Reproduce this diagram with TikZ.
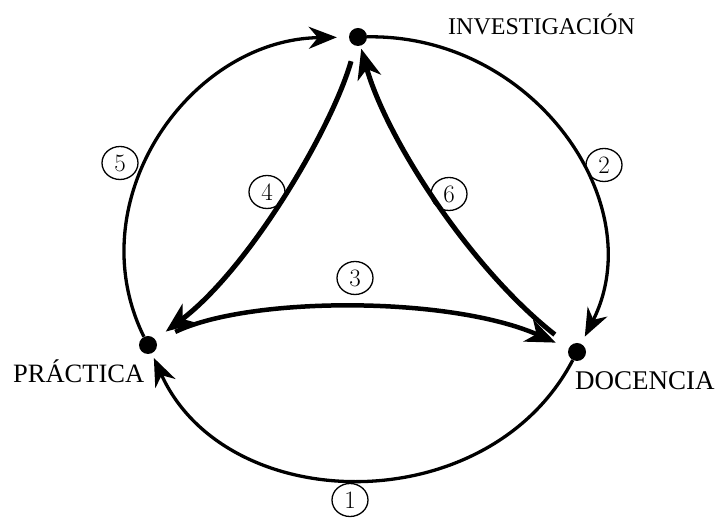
\documentclass[tikz,border=0pt]{standalone}
\usepackage{fontspec}
\newfontfamily\labfont{Liberation Serif}
\usetikzlibrary{arrows.meta,shapes.geometric}
\begin{document}
\begin{tikzpicture}[x=1pt,y=1pt,
  dot/.style={circle,fill=black,inner sep=0pt,minimum size=18pt},
  num/.style={ellipse,draw,line width=1.3pt,inner sep=0pt,minimum width=36pt,minimum height=33pt,font=\fontsize{25}{25}\selectfont},
  lab/.style={inner sep=0pt,anchor=base west},
  outer/.style={line width=3.3pt,-{Stealth[length=28pt,width=22pt,inset=9pt]}},
  inner/.style={line width=5pt,-{Stealth[length=30pt,width=24pt,inset=9pt]}}
]
\useasboundingbox (0,0) rectangle (719,518);
\node[dot] (I) at (358,481) {};
\node[dot] (P) at (148,173) {};
\node[dot] (D) at (577,166) {};
\node[lab,font=\labfont\fontsize{24}{24}\selectfont] (tI) at (448,483) {INVESTIGACIÓN};
\node[lab,font=\labfont\fontsize{26.5}{27}\selectfont] (tP) at (13,135) {PRÁCTICA};
\node[lab,font=\labfont\fontsize{27}{27}\selectfont] (tD) at (575,128) {DOCENCIA};
% outer arcs
\draw[outer,shorten >=12pt] (P) .. controls (77.1,316.7) and (188.8,478.3) .. (I);
\draw[outer,shorten >=8pt] (I) .. controls (534.3,483.9) and (651.9,313.5) .. (D);
\draw[outer,shorten >=5pt] (D) .. controls (488.0,-3.9) and (226.0,0.3) .. (P);
% inner arcs
\draw[inner,shorten <=16pt,shorten >=13pt] (I) .. controls (332,390) and (250,250) .. (P);
\draw[inner,shorten <=19pt,shorten >=3pt] (D) .. controls (470,250) and (386,380) .. (I);
\draw[inner,line width=4.5pt,shorten <=21pt,shorten >=14pt] (P) .. controls (250,222) and (450,222) .. (D);
% numbers
\node[num] (n1) at (350,18) {1};
\node[num] (n2) at (604,353) {2};
\node[num] (n3) at (355,240) {3};
\node[num] (n4) at (267,326) {4};
\node[num] (n5) at (120,355) {5};
\node[num] (n6) at (449,324) {6};
\end{tikzpicture}
\end{document}
